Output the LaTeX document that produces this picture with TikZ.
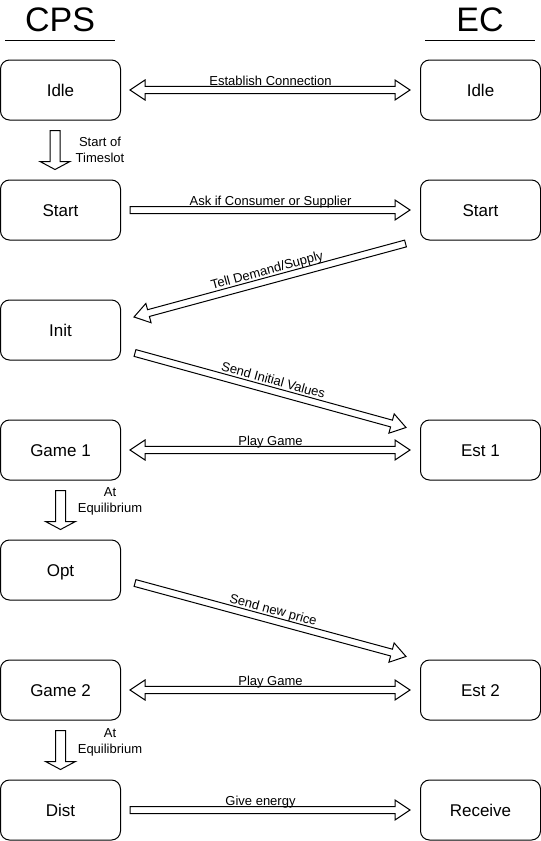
\documentclass[tikz,border=0pt]{standalone}
\usepackage{fontspec}
\setmainfont{Liberation Sans}
\usetikzlibrary{calc}
\tikzset{
	state/.style={draw,rounded corners=9pt,minimum width=120pt,minimum height=60pt,text height=12pt,text depth=0pt,font=\fontsize{17}{20}\selectfont},
	lbl/.style={font=\fontsize{13}{16}\selectfont,inner sep=0pt},
	title/.style={font=\fontsize{34}{40}\selectfont,inner sep=0pt},
	% hollow block arrow: shaft half width, head half width, head length
	fatone/.style n args={3}{draw,fill=white,to path={
		($(\tikztostart)!#1!90:(\tikztotarget)$)
		--($($(\tikztotarget)!#3!(\tikztostart)$)!#1!90:(\tikztotarget)$)
		--($($(\tikztotarget)!#3!(\tikztostart)$)!#2!90:(\tikztotarget)$)
		--(\tikztotarget)
		--($($(\tikztotarget)!#3!(\tikztostart)$)!#2!-90:(\tikztotarget)$)
		--($($(\tikztotarget)!#3!(\tikztostart)$)!#1!-90:(\tikztotarget)$)
		--($(\tikztostart)!#1!-90:(\tikztotarget)$)--cycle}},
	fattwo/.style n args={3}{draw,fill=white,to path={
		($($(\tikztostart)!#3!(\tikztotarget)$)!#1!90:(\tikztotarget)$)
		--($($(\tikztotarget)!#3!(\tikztostart)$)!#1!90:(\tikztotarget)$)
		--($($(\tikztotarget)!#3!(\tikztostart)$)!#2!90:(\tikztotarget)$)
		--(\tikztotarget)
		--($($(\tikztotarget)!#3!(\tikztostart)$)!#2!-90:(\tikztotarget)$)
		--($($(\tikztotarget)!#3!(\tikztostart)$)!#1!-90:(\tikztotarget)$)
		--($($(\tikztostart)!#3!(\tikztotarget)$)!#1!-90:(\tikztotarget)$)
		--($($(\tikztostart)!#3!(\tikztotarget)$)!#2!-90:(\tikztotarget)$)
		--(\tikztostart)
		--($($(\tikztostart)!#3!(\tikztotarget)$)!#2!90:(\tikztotarget)$)--cycle}},
	sarrow/.style={fatone={3.5pt}{10pt}{15pt}},
	darrow/.style={fattwo={3.7pt}{10pt}{15pt}},
	varrow/.style={fatone={5pt}{15pt}{8pt}},
	msg/.style={lbl,anchor=base,yshift=5pt},
	slopedmsg/.style={lbl,sloped,anchor=base,yshift=6pt}
}
\begin{document}
\begin{tikzpicture}[x=1pt,y=-1pt,line width=1pt]
	\useasboundingbox (0,0) rectangle (541,841);
	\node[title] (cps) at (60,20) {CPS};
	\node[title] (ec) at (480,20) {EC};
	\draw (5,40)--(115,40) (425,40)--(535,40);
	% CPS side
	\node[state] (cIdle) at (60.5,90) {Idle};
	\node[state] (cStart) at (60.5,210) {Start};
	\node[state] (cInit) at (60.5,330) {Init};
	\node[state] (cGame1) at (60.5,450) {Game 1};
	\node[state] (cOpt) at (60.5,570) {Opt};
	\node[state] (cGame2) at (60.5,690) {Game 2};
	\node[state] (cDist) at (60.5,810) {Dist};
	% EC side
	\node[state] (eIdle) at (480.5,90) {Idle};
	\node[state] (eStart) at (480.5,210) {Start};
	\node[state] (eEst1) at (480.5,450) {Est 1};
	\node[state] (eEst2) at (480.5,690) {Est 2};
	\node[state] (eRecv) at (480.5,810) {Receive};
	% transitions
	\draw[varrow] ($(cIdle.south)+(-5.5,10)$) to ($(cStart.north)+(-5.5,-10)$);
	\node[lbl,align=center] (slot) at (100,150) {Start of\\Timeslot};
	\draw[varrow] ($(cGame1.south)+(0,10)$) to ($(cOpt.north)+(0,-10)$);
	\node[lbl,align=center] (eqA) at (110,501) {At\\Equilibrium};
	\draw[varrow] ($(cGame2.south)+(0,10)$) to ($(cDist.north)+(0,-10)$);
	\node[lbl,align=center] (eqB) at (110,742) {At\\Equilibrium};
	% messages
	\draw[darrow] ($(cIdle.east)+(9,0)$) to ($(eIdle.west)+(-10,0)$);
	\path (cIdle)--node[msg]{Establish Connection}(eIdle);
	\draw[sarrow] ($(cStart.east)+(9,0)$) to ($(eStart.west)+(-10,0)$);
	\path (cStart)--node[msg]{Ask if Consumer or Supplier}(eStart);
	\draw[sarrow] ($(eStart.south west)+(-14.5,3)$) to ($(cInit.east)+(13,-13)$);
	\path ($(cInit.east)+(13,-13)$)--node[slopedmsg]{Tell Demand/Supply}($(eStart.south west)+(-14.5,3)$);
	\draw[sarrow] ($(cInit.east)+(14,23)$) to ($(eEst1.north west)+(-14,8)$);
	\path ($(cInit.east)+(14,23)$)--node[slopedmsg]{Send Initial Values}($(eEst1.north west)+(-14,8)$);
	\draw[darrow] ($(cGame1.east)+(9,0)$) to ($(eEst1.west)+(-10,0)$);
	\path (cGame1)--node[msg]{Play Game}(eEst1);
	\draw[sarrow] ($(cOpt.east)+(14,13)$) to ($(eEst2.north west)+(-14,-3)$);
	\path ($(cOpt.east)+(14,13)$)--node[slopedmsg]{Send new price}($(eEst2.north west)+(-14,-3)$);
	\draw[darrow] ($(cGame2.east)+(9,0)$) to ($(eEst2.west)+(-10,0)$);
	\path (cGame2)--node[msg]{Play Game}(eEst2);
	\draw[sarrow] ($(cDist.east)+(9,0)$) to ($(eRecv.west)+(-10,0)$);
	\path (cDist)--node[msg,xshift=-10pt]{Give energy}(eRecv);
\end{tikzpicture}
\end{document}
